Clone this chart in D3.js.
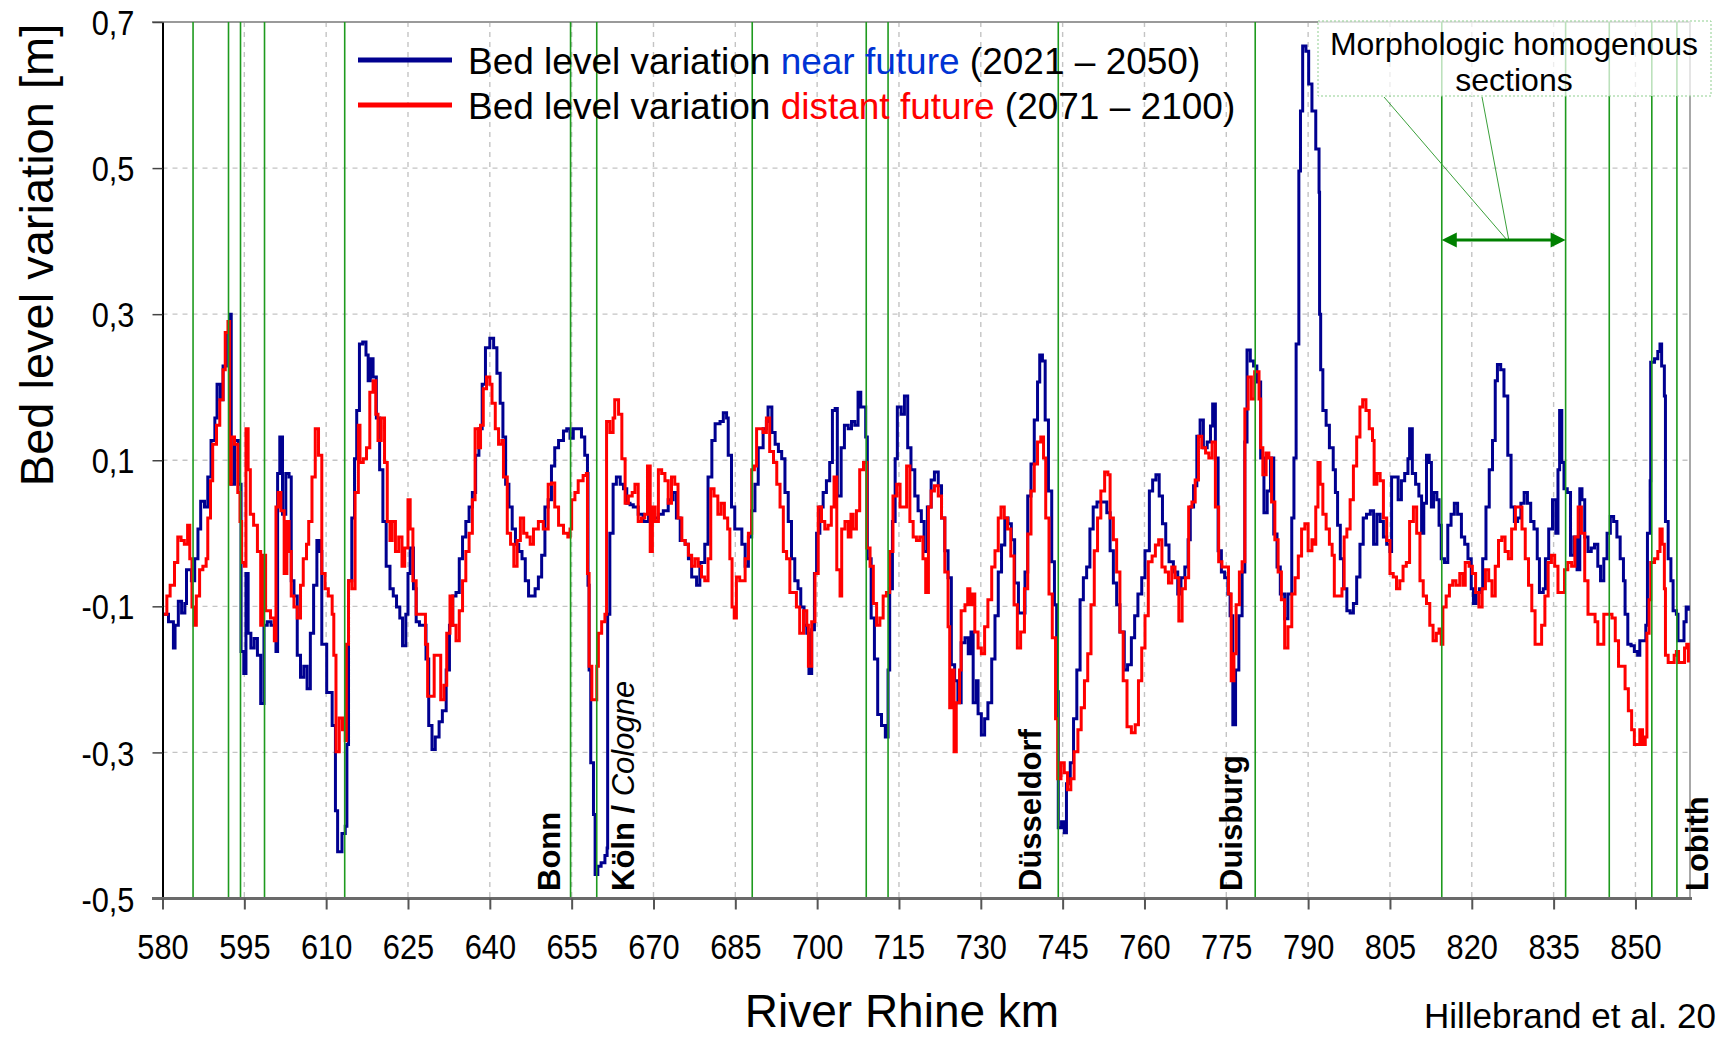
<!DOCTYPE html>
<html>
<head>
<meta charset="utf-8">
<script src="https://cdn.jsdelivr.net/npm/d3@7"></script>
<style>
  body { margin: 0; background: #fff; }
  svg { display: block; }
  text { font-family: "Liberation Sans", Arial, sans-serif; }
</style>
</head>
<body>
<svg id="chart" width="1720" height="1037"></svg>
<script>
// ---- data ----
const kmTicks = [580, 595, 610, 625, 640, 655, 670, 685, 700, 715, 730, 745, 760, 775, 790, 805, 820, 835, 850];
const levelTicks = [-0.5, -0.3, -0.1, 0.1, 0.3, 0.5, 0.7];

// morphologic section boundaries (km)
const sectionKm = [585.6, 592.1, 594.3, 598.7, 613.4, 654.8, 659.6, 688.1, 709.0, 713.0,
                   744.2, 780.3, 814.5, 837.2, 845.2, 853.0, 857.6];

// city labels, placed at river km
const cities = [
  { km: 652.9, name: 'Bonn' },
  { km: 666.4, name: 'Köln /', extra: ' Cologne' },
  { km: 741.0, name: 'Düsseldorf' },
  { km: 777.8, name: 'Duisburg' },
  { km: 863.3, name: 'Lobith' }
];

// [km, bed level variation m] near future 2021-2050
const nearFuture = [
  [580.2,-0.111],[581.1,-0.121],[582.0,-0.157],[582.3,-0.126],[582.9,-0.093],[583.5,-0.109],[584.1,-0.096],[584.4,-0.050],
  [585.3,-0.065],[585.9,-0.035],[586.5,0.006],[587.0,0.044],[587.7,0.036],[588.3,0.077],[588.9,0.127],[589.6,0.158],
  [590.0,0.204],[590.6,0.183],[591.1,0.229],[591.7,0.275],[592.3,0.300],[592.6,0.067],[593.2,0.127],[593.9,0.067],
  [594.4,-0.162],[594.9,-0.192],[595.3,-0.055],[595.7,-0.137],[596.2,-0.157],[596.8,-0.144],[597.4,-0.167],[598.0,-0.233],
  [598.6,-0.126],[599.2,-0.121],[599.9,-0.126],[600.8,-0.162],[601.1,0.082],[601.5,0.132],[602.0,0.026],[602.6,0.082],
  [603.2,0.077],[603.6,-0.065],[604.1,-0.086],[604.7,-0.167],[605.3,-0.197],[605.9,-0.182],[606.5,-0.213],[607.1,-0.137],
  [607.7,-0.071],[608.3,-0.010],[608.8,-0.025],[609.2,-0.152],[610.1,-0.218],[611.1,-0.263],[611.7,-0.380],[612.1,-0.436],
  [612.9,-0.411],[613.5,-0.401],[613.8,-0.289],[614.1,-0.065],[614.7,0.021],[615.2,0.102],[615.6,0.168],[616.1,0.259],
  [616.7,0.262],[617.3,0.244],[617.7,0.209],[618.1,0.239],[618.6,0.214],[619.2,0.158],[619.8,0.087],[620.4,0.016],
  [621.0,-0.045],[621.7,-0.076],[622.3,-0.086],[622.9,-0.101],[623.5,-0.116],[624.0,-0.154],[624.6,-0.111],[625.0,-0.055],
  [625.4,-0.020],[626.0,-0.076],[626.5,-0.121],[627.1,-0.126],[627.7,-0.126],[628.3,-0.172],[628.8,-0.263],[629.4,-0.296],
  [630.0,-0.279],[630.7,-0.258],[631.3,-0.243],[632.0,-0.187],[632.6,-0.126],[633.2,-0.086],[633.8,-0.081],[634.4,-0.035],
  [635.0,-0.005],[635.6,0.016],[636.2,0.036],[636.8,0.056],[637.4,0.107],[638.0,0.143],[638.6,0.204],[639.2,0.254],
  [640.0,0.267],[640.7,0.254],[641.3,0.219],[641.9,0.178],[642.4,0.132],[642.9,0.067],[643.5,0.036],[644.1,0.006],
  [644.7,-0.015],[645.3,-0.025],[645.9,-0.035],[646.5,-0.065],[647.1,-0.086],[647.7,-0.086],[648.3,-0.076],[648.9,-0.060],
  [649.5,-0.030],[650.1,0.036],[650.7,0.046],[651.3,0.092],[651.9,0.117],[652.6,0.127],[653.5,0.140],[654.1,0.143],
  [654.7,0.130],[655.3,0.143],[656.2,0.143],[656.8,0.132],[657.4,0.107],[657.9,0.082],[658.0,-0.071],[658.2,-0.187],
  [658.5,-0.314],[659.0,-0.385],[659.3,-0.467],[659.8,-0.456],[660.4,-0.451],[661.1,-0.441],[661.5,-0.431],[661.6,-0.111],
  [662.0,0.000],[662.6,0.067],[663.2,0.077],[663.9,0.067],[664.5,0.061],[665.1,0.041],[665.7,0.039],[666.3,0.036],
  [667.2,0.026],[668.1,0.016],[669.1,0.031],[670.0,0.021],[670.9,0.026],[671.8,0.031],[672.7,0.046],[673.6,0.056],
  [674.2,0.021],[674.9,-0.010],[675.8,-0.015],[676.4,-0.035],[677.0,-0.060],[677.9,-0.071],[678.5,-0.040],[679.4,-0.015],
  [680.0,0.077],[680.7,0.127],[681.3,0.150],[682.2,0.153],[682.8,0.165],[683.4,0.158],[683.7,0.107],[684.3,0.036],
  [684.9,0.006],[685.5,0.006],[686.2,-0.015],[686.8,-0.045],[687.4,-0.005],[688.0,0.031],[688.6,0.067],[689.2,0.117],
  [690.1,0.143],[690.7,0.153],[691.0,0.173],[691.7,0.138],[692.3,0.122],[692.9,0.112],[693.5,0.102],[694.1,0.056],
  [694.7,0.016],[695.3,-0.035],[695.9,-0.065],[696.5,-0.076],[697.0,-0.101],[697.6,-0.126],[698.1,-0.137],[698.5,-0.192],
  [699.0,-0.132],[699.5,-0.055],[699.9,0.000],[700.5,0.036],[701.1,0.056],[701.7,0.072],[702.3,0.097],[702.8,0.168],
  [703.3,0.171],[703.7,0.051],[704.4,0.117],[705.0,0.148],[705.7,0.143],[706.3,0.153],[706.9,0.148],[707.5,0.193],
  [708.0,0.173],[708.5,0.173],[708.9,0.132],[709.2,-0.035],[709.9,-0.116],[710.5,-0.172],[711.1,-0.248],[711.8,-0.263],
  [712.5,-0.279],[713.0,-0.187],[713.3,-0.076],[713.8,0.016],[714.3,0.102],[714.7,0.173],[715.4,0.163],[716.0,0.188],
  [716.6,0.117],[717.2,0.087],[717.9,0.051],[718.5,0.031],[719.1,0.016],[719.6,-0.025],[720.2,0.036],[720.9,0.073],
  [721.5,0.084],[722.2,0.065],[722.8,0.021],[723.4,-0.024],[724.0,-0.061],[724.6,-0.180],[725.2,-0.202],[725.8,-0.232],
  [726.4,-0.150],[727.1,-0.143],[727.7,-0.165],[728.2,-0.135],[728.6,-0.232],[729.2,-0.202],[729.5,-0.247],[730.1,-0.276],
  [730.7,-0.254],[731.3,-0.232],[732.0,-0.172],[732.6,-0.113],[733.2,-0.053],[733.8,-0.016],[734.4,0.021],[735.0,0.013],
  [735.6,-0.009],[736.2,-0.068],[736.9,-0.109],[737.5,-0.109],[738.1,-0.053],[738.6,0.051],[739.2,0.095],[739.8,0.155],
  [740.4,0.207],[740.8,0.244],[741.3,0.236],[741.8,0.155],[742.4,0.058],[743.0,-0.039],[743.5,-0.098],[743.9,-0.217],
  [744.2,-0.403],[744.8,-0.395],[745.3,-0.410],[745.7,-0.343],[746.4,-0.314],[747.0,-0.254],[747.6,-0.187],[748.2,-0.091],
  [748.8,-0.061],[749.4,-0.046],[750.0,0.006],[750.6,0.036],[751.3,0.043],[752.2,0.043],[753.1,0.028],[753.7,-0.024],
  [754.3,-0.068],[754.9,-0.098],[755.5,-0.135],[756.3,-0.187],[756.9,-0.180],[757.6,-0.143],[758.2,-0.113],[758.8,-0.083],
  [759.5,-0.061],[760.1,-0.024],[760.9,0.058],[761.5,0.073],[762.1,0.080],[762.7,0.051],[763.3,0.013],[763.9,-0.016],
  [764.5,-0.039],[765.3,-0.053],[766.1,-0.083],[766.7,-0.061],[767.4,-0.046],[768.0,-0.009],[768.4,0.036],[769.0,0.065],
  [769.6,0.133],[770.2,0.155],[770.8,0.117],[771.5,0.125],[772.1,0.147],[772.5,0.177],[773.0,0.103],[773.5,-0.024],
  [774.1,-0.053],[774.7,-0.061],[775.3,-0.083],[775.7,-0.113],[776.2,-0.262],[776.7,-0.187],[777.3,-0.113],[777.9,-0.053],
  [778.4,0.125],[778.8,0.251],[779.4,0.236],[780.0,0.229],[780.6,0.207],[781.3,0.103],[781.9,0.028],[782.5,0.058],
  [783.1,0.103],[783.7,-0.001],[784.3,-0.046],[784.9,-0.083],[785.7,-0.117],[786.3,-0.083],[787.0,0.021],[787.4,0.103],
  [787.8,0.259],[788.3,0.496],[788.6,0.578],[789.0,0.667],[789.6,0.660],[790.1,0.615],[790.7,0.578],[791.4,0.526],
  [792.0,0.467],[792.1,0.300],[792.3,0.224],[792.7,0.168],[793.3,0.148],[793.9,0.117],[794.6,0.087],[795.0,0.056],
  [795.4,0.011],[795.9,-0.035],[796.5,-0.076],[797.1,-0.106],[797.7,-0.109],[798.3,-0.096],[798.9,-0.060],[799.5,-0.015],
  [800.1,0.021],[800.7,0.026],[801.4,0.031],[802.0,-0.015],[802.6,0.026],[803.2,0.016],[803.8,-0.005],[804.4,-0.015],
  [805.0,-0.025],[805.3,0.077],[805.9,0.077],[806.5,0.046],[807.1,0.072],[807.7,0.082],[808.3,0.102],[808.6,0.143],
  [809.1,0.082],[809.7,0.067],[810.3,0.051],[810.8,0.000],[811.2,0.041],[811.7,0.107],[812.2,0.097],[812.6,0.036],
  [813.0,0.056],[813.6,0.046],[814.0,0.011],[814.4,-0.035],[815.0,-0.040],[815.6,0.011],[816.2,0.026],[816.8,0.041],
  [817.4,0.026],[818.1,-0.005],[818.7,-0.015],[819.3,-0.035],[819.9,-0.076],[820.3,-0.096],[820.8,-0.081],[821.4,-0.076],
  [822.0,-0.035],[822.6,0.036],[823.2,0.087],[823.8,0.127],[824.3,0.209],[824.7,0.231],[825.3,0.224],[825.9,0.188],
  [826.6,0.107],[827.2,0.036],[827.8,0.016],[828.4,0.021],[829.0,0.041],[829.6,0.056],[830.2,0.041],[830.8,0.016],
  [831.4,0.006],[832.0,-0.035],[832.4,-0.081],[833.1,-0.076],[833.5,-0.035],[834.1,0.006],[834.8,0.046],[835.4,0.000],
  [835.8,0.087],[836.1,0.168],[836.5,0.097],[836.9,0.061],[837.5,0.056],[838.1,-0.030],[838.7,-0.005],[839.3,-0.050],
  [839.8,0.061],[840.2,0.046],[840.7,-0.005],[841.3,-0.025],[841.9,-0.020],[842.5,-0.015],[843.1,-0.045],[843.6,-0.065],
  [844.2,-0.035],[844.8,0.000],[845.4,0.023],[846.0,0.016],[846.6,-0.005],[847.2,-0.035],[847.8,-0.065],[848.1,-0.111],
  [848.6,-0.152],[849.2,-0.154],[849.8,-0.162],[850.4,-0.167],[850.8,-0.147],[851.5,-0.147],[851.9,-0.126],[852.2,0.000],
  [852.7,0.072],[852.8,0.234],[853.5,0.239],[854.1,0.249],[854.5,0.259],[854.8,0.229],[855.3,0.188],[855.5,0.016],
  [856.0,-0.035],[856.5,-0.065],[856.9,-0.106],[857.5,-0.111],[857.8,-0.147],[858.4,-0.147],[858.9,-0.121],[859.3,-0.101],
  [859.7,-0.106]
];

// [km, bed level variation m] distant future 2071-2100
const distantFuture = [
  [580.2,-0.111],[580.8,-0.086],[581.4,-0.071],[582.2,-0.040],[582.8,-0.005],[583.4,-0.010],[584.0,-0.015],[584.6,0.011],
  [585.0,-0.035],[585.4,-0.101],[585.8,-0.126],[586.2,-0.086],[586.8,-0.050],[587.4,-0.045],[588.0,-0.035],[588.3,0.021],
  [588.8,0.072],[589.2,0.122],[589.9,0.148],[590.5,0.183],[591.1,0.224],[591.5,0.275],[592.0,0.290],[592.3,0.067],
  [592.6,0.132],[593.2,0.122],[593.8,0.056],[594.2,0.016],[594.5,-0.040],[595.0,-0.045],[595.3,0.143],[595.7,0.087],
  [596.1,0.026],[596.7,0.011],[597.4,-0.025],[598.0,-0.126],[598.5,-0.030],[598.9,-0.106],[599.8,-0.116],[600.5,-0.147],
  [600.8,0.036],[601.2,0.056],[601.7,0.031],[602.3,-0.055],[602.8,0.016],[603.2,-0.025],[603.6,-0.086],[604.1,-0.101],
  [604.7,-0.116],[605.3,-0.071],[605.8,-0.035],[606.4,-0.015],[606.8,0.016],[607.4,0.077],[608.0,0.143],[608.6,0.107],
  [609.2,-0.055],[609.8,-0.076],[610.4,-0.086],[611.1,-0.111],[611.4,-0.167],[611.8,-0.299],[612.4,-0.253],[613.0,-0.269],
  [613.5,-0.284],[613.7,-0.152],[614.1,-0.065],[614.7,-0.076],[615.3,0.056],[615.9,0.148],[616.2,0.097],[616.8,0.102],
  [617.4,0.117],[618.0,0.193],[618.6,0.209],[619.1,0.163],[619.5,0.127],[620.1,0.158],[620.7,0.097],[621.2,0.016],
  [621.7,-0.010],[622.1,0.016],[622.7,-0.025],[623.3,-0.005],[623.9,-0.045],[624.4,-0.020],[625.0,0.046],[625.4,0.006],
  [625.9,-0.065],[626.5,-0.111],[627.1,-0.111],[627.7,-0.111],[628.2,-0.152],[628.6,-0.223],[629.2,-0.223],[629.8,-0.167],
  [630.4,-0.167],[631.0,-0.228],[631.6,-0.208],[632.1,-0.137],[632.7,-0.086],[633.2,-0.126],[633.8,-0.147],[634.4,-0.106],
  [635.0,-0.065],[635.6,-0.025],[636.2,0.000],[636.8,0.046],[637.3,0.143],[637.9,0.117],[638.3,0.148],[638.8,0.198],
  [639.4,0.214],[640.0,0.204],[640.4,0.178],[641.0,0.143],[641.6,0.122],[642.2,0.127],[642.5,0.077],[643.2,0.000],
  [643.8,-0.015],[644.4,-0.045],[645.0,-0.010],[645.6,0.021],[646.2,0.000],[646.8,-0.005],[647.4,-0.015],[648.0,0.006],
  [648.9,0.016],[649.8,0.006],[650.7,0.067],[651.3,0.069],[651.9,0.036],[652.6,0.011],[653.5,0.000],[654.3,-0.005],
  [654.7,0.006],[655.0,0.046],[655.6,0.056],[656.2,0.072],[657.1,0.079],[657.7,0.082],[657.9,-0.055],[658.2,-0.182],
  [658.7,-0.228],[659.3,-0.228],[659.6,-0.182],[659.9,-0.137],[660.5,-0.121],[661.1,-0.111],[661.4,0.153],[662.0,0.138],
  [662.6,0.158],[662.9,0.183],[663.6,0.163],[664.2,0.102],[664.8,0.041],[665.4,0.051],[666.1,0.056],[666.6,0.067],
  [667.2,0.016],[667.8,0.021],[668.4,0.026],[668.9,0.092],[669.4,-0.025],[669.8,0.036],[670.3,0.016],[670.9,0.087],
  [671.5,0.082],[672.1,0.072],[672.7,0.041],[673.3,0.077],[673.9,0.067],[674.5,0.021],[675.2,-0.010],[675.8,-0.015],
  [676.4,-0.030],[677.0,-0.045],[677.6,-0.035],[678.2,-0.045],[678.8,-0.060],[679.4,-0.065],[680.0,-0.035],[680.5,0.061],
  [681.1,0.051],[681.8,0.026],[682.4,0.041],[683.0,0.021],[683.6,0.006],[684.0,-0.035],[684.4,-0.101],[684.8,-0.116],
  [685.2,-0.060],[685.8,-0.065],[686.5,-0.065],[686.8,-0.035],[687.4,0.000],[688.0,0.087],[688.5,0.092],[688.9,0.143],
  [689.5,0.143],[690.1,0.138],[690.7,0.158],[691.3,0.112],[692.0,0.097],[692.6,0.067],[693.2,0.036],[693.8,-0.025],
  [694.4,-0.035],[695.0,-0.081],[695.6,-0.081],[696.2,-0.101],[696.8,-0.137],[697.5,-0.106],[698.1,-0.126],[698.4,-0.182],
  [699.0,-0.121],[699.6,-0.055],[700.2,0.036],[700.8,0.016],[701.4,0.006],[702.0,0.011],[702.6,0.036],[703.1,0.077],
  [703.6,-0.050],[704.2,-0.086],[704.5,0.006],[705.1,0.016],[705.7,-0.005],[706.2,0.026],[706.6,0.006],[707.2,0.031],
  [707.8,0.087],[708.5,0.097],[709.1,-0.020],[709.7,-0.045],[710.3,-0.096],[710.9,-0.126],[711.5,-0.116],[712.1,-0.086],
  [712.7,-0.081],[713.3,-0.025],[713.9,0.051],[714.6,0.067],[715.2,0.036],[715.8,0.036],[716.4,0.092],[717.0,0.016],
  [717.6,-0.005],[718.2,-0.010],[718.8,-0.005],[719.4,-0.035],[719.9,-0.081],[720.4,0.036],[720.9,0.058],[721.5,0.065],
  [722.2,0.051],[722.8,0.021],[723.4,-0.053],[724.0,-0.128],[724.3,-0.239],[724.6,-0.187],[725.1,-0.299],[725.5,-0.232],
  [726.1,-0.187],[726.4,-0.106],[727.1,-0.098],[727.6,-0.076],[728.0,-0.098],[728.4,-0.083],[728.9,-0.135],[729.5,-0.157],
  [730.1,-0.165],[730.7,-0.128],[731.3,-0.091],[732.0,-0.046],[732.6,-0.024],[733.2,0.021],[733.7,0.036],[734.3,0.021],
  [734.9,0.006],[735.5,-0.031],[736.1,-0.098],[736.7,-0.157],[737.3,-0.135],[738.0,-0.076],[738.6,-0.001],[739.2,0.058],
  [739.8,0.095],[740.4,0.125],[741.0,0.132],[741.5,0.103],[741.9,0.021],[742.5,-0.083],[743.1,-0.143],[743.7,-0.254],
  [744.1,-0.336],[744.7,-0.314],[745.3,-0.328],[745.9,-0.351],[746.5,-0.336],[747.1,-0.299],[747.8,-0.269],[748.4,-0.239],
  [749.0,-0.202],[749.6,-0.165],[750.2,-0.098],[750.8,-0.024],[751.4,0.021],[752.0,0.058],[752.7,0.084],[753.3,0.080],
  [753.7,0.021],[754.3,-0.009],[754.9,-0.053],[755.5,-0.135],[756.1,-0.202],[756.8,-0.265],[757.6,-0.273],[758.3,-0.262],
  [758.9,-0.202],[759.5,-0.157],[760.1,-0.113],[760.7,-0.039],[761.4,-0.031],[762.0,-0.016],[762.6,-0.009],[763.2,-0.046],
  [763.8,-0.053],[764.4,-0.068],[765.0,-0.046],[765.6,-0.061],[766.3,-0.120],[766.9,-0.076],[767.5,-0.061],[768.1,0.036],
  [768.7,0.043],[769.3,0.073],[769.9,0.133],[770.5,0.117],[771.2,0.110],[771.8,0.103],[772.4,0.125],[773.0,0.036],
  [773.6,-0.039],[774.2,-0.046],[774.8,-0.046],[775.4,-0.083],[775.9,-0.202],[776.4,-0.165],[776.8,-0.098],[777.4,-0.053],
  [777.9,-0.039],[778.4,0.170],[779.0,0.214],[779.6,0.184],[780.2,0.221],[781.0,0.184],[781.3,0.117],[781.7,0.080],
  [782.3,0.110],[782.8,0.103],[783.3,0.043],[783.9,-0.009],[784.5,-0.053],[785.1,-0.091],[785.7,-0.157],[786.3,-0.128],
  [787.0,-0.083],[787.6,-0.061],[788.2,-0.031],[788.8,0.006],[789.4,0.013],[790.0,-0.024],[790.7,-0.009],[791.0,-0.015],
  [791.4,0.036],[791.8,0.097],[792.2,0.067],[792.7,0.026],[793.3,0.006],[793.9,-0.015],[794.4,-0.030],[794.8,-0.086],
  [795.6,-0.086],[796.2,-0.076],[796.6,-0.005],[797.1,0.006],[797.7,0.046],[798.3,0.092],[798.9,0.132],[799.5,0.173],
  [800.0,0.183],[800.6,0.168],[801.2,0.143],[801.8,0.127],[802.1,0.067],[802.6,0.082],[803.2,0.072],[803.8,0.021],
  [804.4,-0.010],[805.0,-0.055],[805.6,-0.060],[806.2,-0.076],[806.8,-0.065],[807.4,-0.045],[808.0,-0.040],[808.6,0.016],
  [809.3,0.036],[809.9,0.000],[810.5,-0.065],[811.1,-0.086],[811.7,-0.096],[812.3,-0.126],[812.9,-0.147],[813.5,-0.137],
  [814.0,-0.131],[814.4,-0.152],[814.7,-0.101],[815.3,-0.086],[815.9,-0.071],[816.5,-0.065],[817.1,-0.071],[817.8,-0.055],
  [818.4,-0.071],[818.8,-0.040],[819.5,-0.045],[820.1,-0.055],[820.7,-0.081],[821.3,-0.101],[821.9,-0.076],[822.5,-0.050],
  [823.1,-0.065],[823.7,-0.086],[824.3,-0.045],[824.9,-0.010],[825.5,-0.005],[826.1,-0.025],[826.7,-0.035],[827.3,0.006],
  [828.0,0.036],[828.6,0.036],[829.2,0.006],[829.8,-0.035],[830.4,-0.071],[831.0,-0.106],[831.6,-0.152],[832.2,-0.152],
  [832.8,-0.126],[833.4,-0.086],[834.0,-0.040],[834.6,-0.030],[835.2,-0.045],[835.8,-0.081],[836.4,-0.081],[837.0,-0.050],
  [837.6,-0.040],[838.3,-0.045],[838.9,-0.005],[839.5,0.036],[840.1,0.000],[840.7,-0.065],[841.3,-0.111],[842.0,-0.111],
  [842.6,-0.121],[843.1,-0.152],[843.6,-0.152],[844.2,-0.111],[845.1,-0.111],[845.7,-0.116],[846.3,-0.147],[846.9,-0.182],
  [847.5,-0.182],[848.1,-0.213],[848.7,-0.243],[849.3,-0.269],[849.8,-0.289],[850.4,-0.289],[850.8,-0.269],[851.3,-0.289],
  [851.8,-0.279],[852.1,-0.137],[852.5,-0.091],[852.8,-0.040],[853.5,-0.035],[854.1,-0.025],[854.5,0.006],[854.9,-0.015],
  [855.3,-0.076],[855.5,-0.167],[856.0,-0.177],[856.6,-0.177],[857.1,-0.167],[857.5,-0.162],[857.9,-0.177],[858.4,-0.177],
  [859.0,-0.157],[859.4,-0.152],[859.7,-0.177]
];

// ---- chart ----
function render() {
  const svg = d3.select('#chart');
  const W = 1720, H = 1037;
  const plot = { left: 162.5, right: 1690, top: 22, bottom: 898.5 };

  const x = d3.scaleLinear().domain([580, 860]).range([plot.left, plot.right]);
  const y = d3.scaleLinear().domain([-0.5, 0.7]).range([plot.bottom, plot.top]);
  // comma decimals, plain hyphen for minus like the original
  const fmtComma = d => (d < 0 ? '-' : '') + Math.abs(d).toFixed(1).replace('.', ',');

  svg.append('rect').attr('width', W).attr('height', H).attr('fill', '#fff');

  // dashed gridlines
  const grid = svg.append('g').attr('stroke', '#c4c4c4').attr('stroke-width', 1.4)
    .attr('stroke-dasharray', '5,5');
  grid.selectAll('line.h')
    .data(levelTicks.filter(v => v > -0.5 && v < 0.7))
    .join('line')
    .attr('x1', plot.left).attr('x2', plot.right)
    .attr('y1', d => y(d)).attr('y2', d => y(d));
  grid.selectAll('line.v')
    .data(kmTicks.filter(k => k > 580))
    .join('line')
    .attr('x1', d => x(d)).attr('x2', d => x(d))
    .attr('y1', plot.top).attr('y2', plot.bottom);

  // top / right frame
  svg.append('line').attr('x1', 152).attr('x2', plot.right)
    .attr('y1', plot.top).attr('y2', plot.top)
    .attr('stroke', '#9a9a9a').attr('stroke-width', 2);
  svg.append('line').attr('x1', plot.right).attr('x2', plot.right)
    .attr('y1', plot.top).attr('y2', plot.bottom)
    .attr('stroke', '#a8a8a8').attr('stroke-width', 2);

  // data lines
  const line = d3.line()
    .x(d => x(d[0]))
    .y(d => y(d[1]))
    .curve(d3.curveStepAfter);

  svg.append('path').datum(nearFuture)
    .attr('d', line).attr('fill', 'none')
    .attr('stroke', '#000090').attr('stroke-width', 3);
  svg.append('path').datum(distantFuture)
    .attr('d', line).attr('fill', 'none')
    .attr('stroke', '#ff0000').attr('stroke-width', 3);

  // section boundaries
  svg.append('g').selectAll('line')
    .data(sectionKm)
    .join('line')
    .attr('x1', d => x(d)).attr('x2', d => x(d))
    .attr('y1', plot.top).attr('y2', plot.bottom)
    .attr('stroke', '#1e9a1e').attr('stroke-width', 1.6);

  // axes
  const yAxis = svg.append('g')
    .attr('transform', `translate(${plot.left},0)`)
    .call(d3.axisLeft(y).tickValues(levelTicks).tickFormat(fmtComma).tickSize(10).tickSizeOuter(0));
  yAxis.select('.domain').attr('stroke', '#000').attr('stroke-width', 2);
  yAxis.selectAll('.tick line').attr('stroke', '#444').attr('stroke-width', 1.5);
  yAxis.selectAll('.tick text')
    .attr('x', null).attr('dy', '0.36em')
    .attr('transform', 'translate(-28,0) scale(0.88,1)')
    .attr('fill', '#000').style('font-size', '35px')
    .style('font-family', '"Liberation Sans", Arial, sans-serif');

  const xAxis = svg.append('g')
    .attr('transform', `translate(0,${plot.bottom})`)
    .call(d3.axisBottom(x).tickValues(kmTicks).tickFormat(d3.format('d')).tickSize(11).tickSizeOuter(0));
  xAxis.select('.domain').attr('stroke', '#6a6a6a').attr('stroke-width', 3)
    .attr('d', `M152,0H${plot.right + 2}`);
  xAxis.selectAll('.tick line').attr('stroke', '#555').attr('stroke-width', 2);
  xAxis.selectAll('.tick text')
    .attr('y', null).attr('dy', null)
    .attr('transform', 'translate(0,60) scale(0.88,1)')
    .attr('fill', '#000').style('font-size', '35px')
    .style('font-family', '"Liberation Sans", Arial, sans-serif');

  // axis titles
  svg.append('text')
    .attr('transform', `translate(53,255) rotate(-90)`)
    .attr('text-anchor', 'middle')
    .style('font-size', '47px')
    .text('Bed level variation [m]');

  svg.append('text')
    .attr('x', 902).attr('y', 1027)
    .attr('text-anchor', 'middle')
    .style('font-size', '46px')
    .text('River Rhine km');

  svg.append('text')
    .attr('x', 1424).attr('y', 1028)
    .style('font-size', '35px')
    .text('Hillebrand et al. 20');

  // city labels
  const cityG = svg.append('g');
  cities.forEach(c => {
    const t = cityG.append('text')
      .attr('transform', `translate(${x(c.km)},891) rotate(-90)`)
      .style('font-size', '31px');
    t.append('tspan').attr('font-weight', 'bold').text(c.name);
    if (c.extra) t.append('tspan').attr('font-style', 'italic').text(c.extra);
  });

  // legend
  const legend = svg.append('g');
  const legendRows = [
    { color: '#000090', word: 'near future', wordColor: '#0033d4', years: ' (2021 – 2050)', y: 60 },
    { color: '#ff0000', word: 'distant future', wordColor: '#ff0000', years: ' (2071 – 2100)', y: 105 }
  ];
  legendRows.forEach(r => {
    legend.append('line')
      .attr('x1', 358).attr('x2', 452).attr('y1', r.y).attr('y2', r.y)
      .attr('stroke', r.color).attr('stroke-width', 5);
    const t = legend.append('text')
      .attr('x', 468).attr('y', r.y + 14)
      .style('font-size', '37px');
    t.append('tspan').text('Bed level variation ');
    t.append('tspan').attr('fill', r.wordColor).text(r.word);
    t.append('tspan').text(r.years);
  });

  // annotation box
  const ann = svg.append('g');
  ann.append('rect')
    .attr('x', 1318).attr('y', 21).attr('width', 393).attr('height', 75)
    .attr('fill', '#fff').attr('fill-opacity', 0.7)
    .attr('stroke', '#8fcf8f').attr('stroke-width', 1)
    .attr('stroke-dasharray', '2,2');
  ann.append('text').attr('x', 1514).attr('y', 55)
    .attr('text-anchor', 'middle').style('font-size', '32px')
    .text('Morphologic homogenous');
  ann.append('text').attr('x', 1514).attr('y', 91)
    .attr('text-anchor', 'middle').style('font-size', '32px')
    .text('sections');

  const arrowY = 240;
  const ax1 = x(sectionKm[12]), ax2 = x(sectionKm[13]);
  ann.append('line')
    .attr('x1', 1384).attr('y1', 97).attr('x2', 1507).attr('y2', arrowY)
    .attr('stroke', '#3aa03a').attr('stroke-width', 1);
  ann.append('line')
    .attr('x1', 1482).attr('y1', 97).attr('x2', 1509).attr('y2', arrowY + 1)
    .attr('stroke', '#3aa03a').attr('stroke-width', 1);
  ann.append('line')
    .attr('x1', ax1 + 10).attr('x2', ax2 - 10).attr('y1', arrowY).attr('y2', arrowY)
    .attr('stroke', '#008000').attr('stroke-width', 3);
  ann.append('path')
    .attr('d', `M${ax1},${arrowY}l15,-7.5v15z M${ax2},${arrowY}l-15,-7.5v15z`)
    .attr('fill', '#008000');
}

render();
</script>
</body>
</html>
